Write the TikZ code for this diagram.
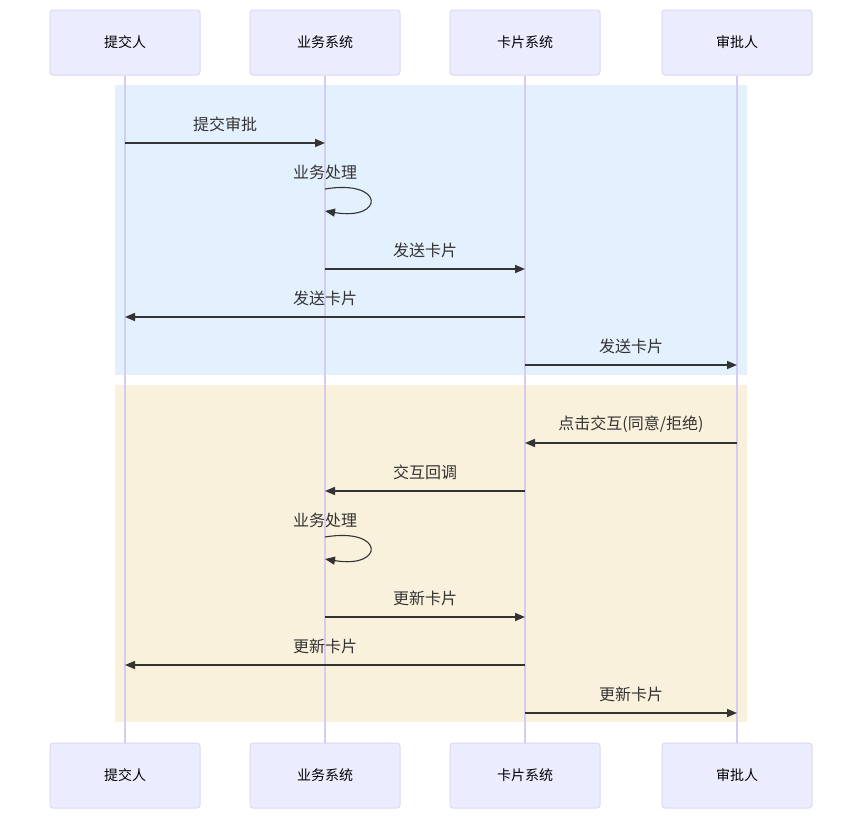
\documentclass[tikz,border=0pt]{standalone}
\usepackage{fontspec}
\newfontfamily\cjk{Noto Sans CJK SC}
\usetikzlibrary{arrows.meta,positioning}
\definecolor{actorfill}{HTML}{ECECFF}
\definecolor{actorborder}{HTML}{DDD5F7}
\definecolor{lifecolor}{HTML}{D6CBF2}
\definecolor{phaseblue}{RGB}{227,240,253}
\definecolor{phasebeige}{RGB}{250,241,220}
\definecolor{msgcolor}{HTML}{333333}
\begin{document}
\begin{tikzpicture}[x=1pt,y=-1pt,
  actor/.style={draw=actorborder,fill=actorfill,line width=1pt,rounded corners=3pt,
    minimum width=150pt,minimum height=65pt,inner sep=0pt,font=\cjk\fontsize{14}{16}\selectfont},
  lifeline/.style={draw=lifecolor,line width=1.2pt},
  msg/.style={draw=msgcolor,line width=1.5pt,-{Triangle[length=10pt,width=8pt]}},
  selfmsg/.style={msg,line width=1.1pt},
  lbl/.style={font=\cjk\fontsize{16}{19}\selectfont,text=msgcolor}]
\useasboundingbox (0,0) rectangle (862,819);
% phase backgrounds
\fill[phaseblue] (115,85) rectangle (747,375);
\fill[phasebeige] (115,385) rectangle (747,722);
% participants with lifelines
\foreach \name/\x/\txt in {sub/125/提交人,biz/325/业务系统,card/525/卡片系统,appr/737/审批人}{
  \node[actor] (\name-top) at (\x,42.5) {\txt};
  \node[actor] (\name-bot) at (\x,775.5) {\txt};
  \draw[lifeline] (\name-top) -- (\name-bot);
}
% messages: y / from / to / text
\foreach \y/\from/\to/\txt in {143/sub/biz/提交审批,
                               269/biz/card/发送卡片,
                               317/card/sub/发送卡片,
                               365/card/appr/发送卡片,
                               443/appr/card/{点击交互(同意/拒绝)},
                               491/card/biz/交互回调,
                               617/biz/card/更新卡片,
                               665/card/sub/更新卡片,
                               713/card/appr/更新卡片}{
  \draw[msg] (\from-top |- 0,\y) -- (\to-top |- 0,\y)
    node[midway,lbl,yshift=19pt] {\txt};
}
% self calls
\foreach \y in {189,537}{
  \node[lbl] (self\y) at (biz-top |- 0,\y-17) {业务处理};
  \draw[selfmsg] (biz-top |- 0,\y) .. controls +(60,-10) and +(60,10) .. (biz-top |- 0,\y+22);
}
\end{tikzpicture}
\end{document}
